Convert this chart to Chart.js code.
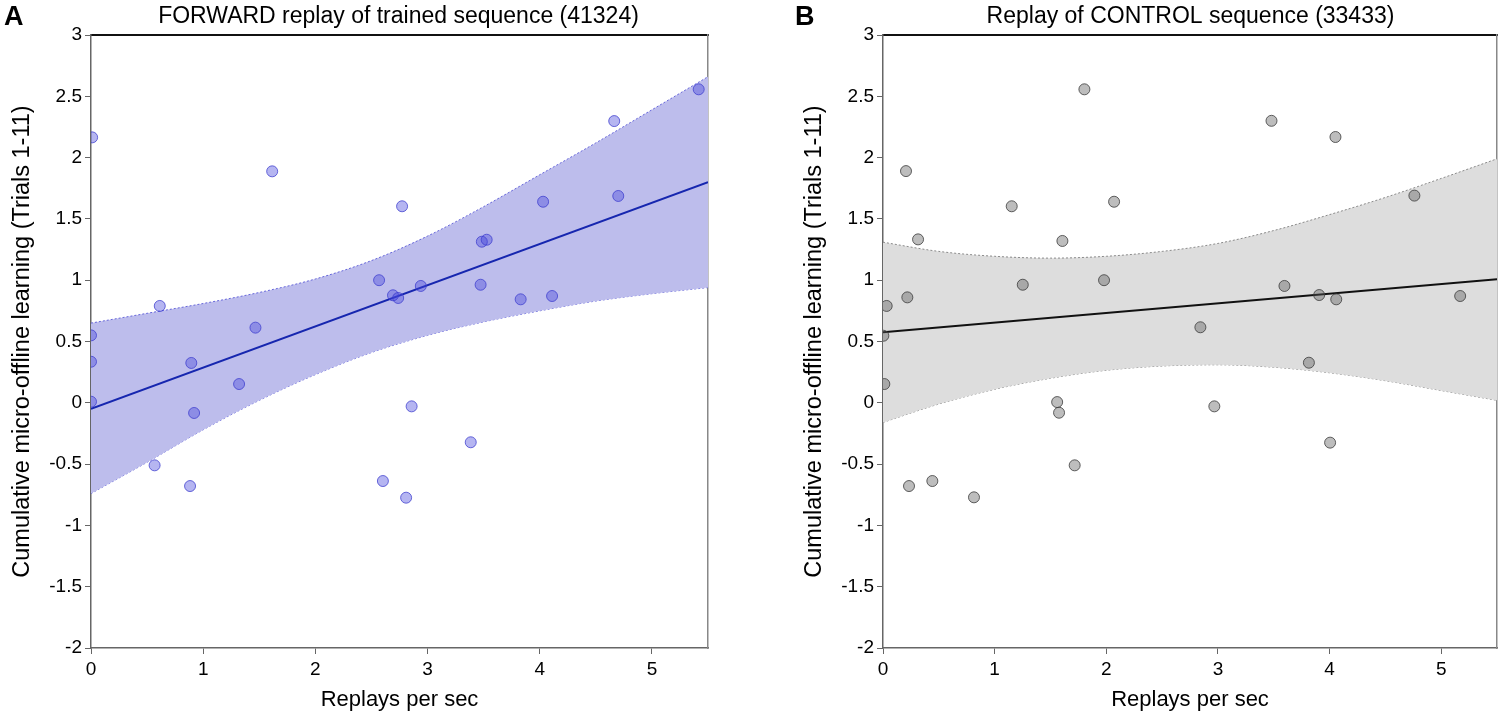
<!DOCTYPE html>
<html><head><meta charset="utf-8">
<script src="https://cdn.jsdelivr.net/npm/chart.js@4.4.1/dist/chart.umd.min.js"></script>
<style>
html,body{margin:0;padding:0;background:#fff;overflow:hidden;width:1500px;height:716px;}
.wrap{position:absolute;top:0;height:716px;width:792px;}
.lab{position:absolute;z-index:5;font-family:"Liberation Sans",Arial,sans-serif;font-weight:bold;font-size:27px;color:#000;line-height:27px;}
</style></head><body>
<div class="lab" style="left:4px;top:3px">A</div>
<div class="lab" style="left:795px;top:3px">B</div>
<div class="wrap" style="left:0"><canvas id="cA"></canvas></div>
<div class="wrap" style="left:792px"><canvas id="cB"></canvas></div>
<script>
// ---- data ----
const xTicks = [0, 1, 2, 3, 4, 5];
const yTicks = [-2, -1.5, -1, -0.5, 0, 0.5, 1, 1.5, 2, 2.5, 3];

// Panel A: FORWARD replay of trained sequence
const forwardX = [0.01,1.615,2.773,0.613,2.568,2.692,2.738,1.466,0.0,5.417,4.664,4.03,4.70,3.484,3.527,2.94,3.473,3.83,4.11,0.0,0.894,1.32,0.0,0.919,0.567,0.883,2.602,2.809,2.858,3.385];
const forwardY = [2.165,1.888,1.603,0.79,1.0,0.877,0.855,0.613,0.55,2.557,2.298,1.64,1.687,1.314,1.33,0.953,0.963,0.844,0.871,0.335,0.325,0.153,0.009,-0.083,-0.51,-0.679,-0.638,-0.774,-0.029,-0.322];

// Panel B: Replay of CONTROL sequence
const controlX = [1.804,0.206,1.153,2.07,0.314,1.607,1.252,1.98,0.218,0.033,0.003,3.48,4.053,4.76,3.596,3.907,4.06,5.17,2.843,0.012,1.56,1.577,1.717,0.233,0.442,0.815,3.815,2.968,4.005];
const controlY = [2.557,1.89,1.603,1.64,1.333,1.32,0.963,1.0,0.86,0.79,0.547,2.30,2.168,1.69,0.953,0.879,0.844,0.871,0.616,0.153,0.006,-0.081,-0.51,-0.679,-0.638,-0.771,0.327,-0.029,-0.325];

// regression lines (end points)
const fitX = [0, 5.5];
const forwardFitY = [-0.05, 1.80];
const controlFitY = [0.575, 1.007];

// confidence band edges, read at these x positions
const bandX = [0, 0.5, 1, 1.5, 2, 2.5, 3, 3.5, 4, 4.5, 5, 5.5];
const forwardUpper = [0.65, 0.73, 0.81, 0.90, 1.01, 1.16, 1.36, 1.60, 1.86, 2.12, 2.39, 2.66];
const forwardLower = [-0.74, -0.485, -0.22, 0.02, 0.23, 0.41, 0.55, 0.66, 0.75, 0.83, 0.89, 0.94];
const controlUpper = [1.31, 1.235, 1.195, 1.18, 1.195, 1.235, 1.30, 1.405, 1.535, 1.675, 1.83, 1.99];
const controlLower = [-0.16, -0.01, 0.11, 0.20, 0.265, 0.30, 0.31, 0.29, 0.245, 0.18, 0.10, 0.02];

const FONT = '"Liberation Sans", Arial, sans-serif';
const pairs = (xs, ys) => xs.map((x, i) => ({x: x, y: ys[i]}));

function makeChart(id, title, xs, ys, fitY, upper, lower, c, rightW) {
  return new Chart(document.getElementById(id), {
    type: 'scatter',
    data: {datasets: [
      {label: 'participants', data: pairs(xs, ys), xAxisID: 'x', yAxisID: 'y', order: 0,
       pointRadius: 5.5, pointBackgroundColor: c.pt, pointBorderColor: c.ptBorder, pointBorderWidth: 1, showLine: false},
      {label: 'fit', data: pairs(fitX, fitY), xAxisID: 'x', yAxisID: 'y', order: 1, showLine: true,
       borderColor: c.line, borderWidth: 2, pointRadius: 0},
      {label: 'upper', data: pairs(bandX, upper), xAxisID: 'x', yAxisID: 'y', order: 2, showLine: true,
       borderColor: c.edge, borderWidth: 1, borderDash: [2, 2], pointRadius: 0,
       cubicInterpolationMode: 'monotone', fill: '+1', backgroundColor: c.band},
      {label: 'lower', data: pairs(bandX, lower), xAxisID: 'x', yAxisID: 'y', order: 3, showLine: true,
       borderColor: c.edge, borderWidth: 1, borderDash: [2, 2], pointRadius: 0,
       cubicInterpolationMode: 'monotone', fill: false}
    ]},
    options: {
      responsive: true, maintainAspectRatio: false, animation: false,
      layout: {padding: {left: 5, right: 0, top: 0, bottom: 0}},
      plugins: {
        legend: {display: false}, tooltip: {enabled: false},
        title: {display: true, text: title, color: '#000',
                font: {family: FONT, size: 23, weight: 'normal', lineHeight: 1}, padding: {top: 5, bottom: 7}}
      },
      scales: {
        x: {type: 'linear', position: 'bottom', min: 0, max: 5.5,
            afterBuildTicks: s => { s.ticks = xTicks.map(v => ({value: v})); },
            afterFit: s => { s.height = 68; },
            ticks: {color: '#000', font: {family: FONT, size: 19}, padding: 4, autoSkip: false, maxRotation: 0,
                    callback: v => String(v)},
            grid: {display: true, drawOnChartArea: false, drawTicks: true, tickLength: 6, color: '#666'},
            border: {display: true, color: '#666', width: 1.5},
            title: {display: true, text: 'Replays per sec', color: '#000', font: {family: FONT, size: 22}, padding: {top: 4, bottom: 3}}},
        x2: {type: 'linear', position: 'top', min: 0, max: 5.5,
             afterFit: s => { s.height = 0; },
             ticks: {display: false}, grid: {display: false, drawTicks: false},
             border: {display: true, color: '#111', width: 2}},
        y: {type: 'linear', position: 'left', min: -2, max: 3,
            afterBuildTicks: s => { s.ticks = yTicks.map(v => ({value: v})); },
            afterFit: s => { s.width = 86; },
            ticks: {color: '#000', font: {family: FONT, size: 19}, padding: 3, autoSkip: false,
                    callback: v => String(v)},
            grid: {display: true, drawOnChartArea: false, drawTicks: true, tickLength: 6, color: '#666'},
            border: {display: true, color: '#666', width: 1.5},
            title: {display: true, text: 'Cumulative micro-offline learning (Trials 1-11)', color: '#000',
                    font: {family: FONT, size: 23.5}, padding: {top: 3, bottom: 4}}},
        y2: {type: 'linear', position: 'right', min: -2, max: 3,
             afterFit: s => { s.width = rightW; },
             ticks: {display: false}, grid: {display: false, drawTicks: false},
             border: {display: true, color: '#888', width: 1.5}}
      }
    }
  });
}

makeChart('cA', 'FORWARD replay of trained sequence (41324)', forwardX, forwardY, forwardFitY, forwardUpper, forwardLower,
  {pt: 'rgba(70,70,220,0.4)', ptBorder: 'rgba(60,60,205,0.75)', line: 'rgb(22,38,175)',
   edge: 'rgba(90,90,215,0.9)', band: 'rgb(189,189,236)'}, 84);
makeChart('cB', 'Replay of CONTROL sequence (33433)', controlX, controlY, controlFitY, controlUpper, controlLower,
  {pt: 'rgba(90,90,90,0.4)', ptBorder: 'rgba(60,60,60,0.8)', line: '#111',
   edge: '#8a8a8a', band: 'rgb(221,221,221)'}, 87);
</script>
</body></html>
